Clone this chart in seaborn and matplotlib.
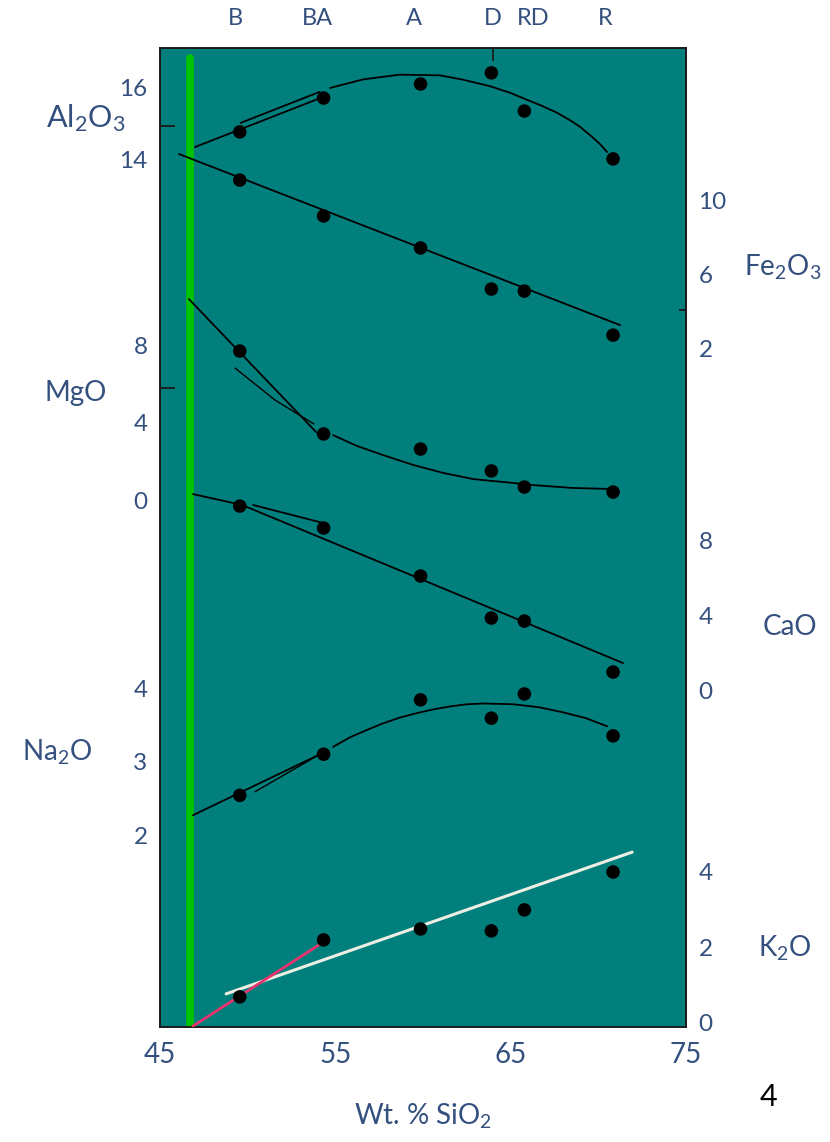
import matplotlib
matplotlib.use("Agg")
import matplotlib.pyplot as plt
import seaborn as sns

# rock types marked along the top (label positions in wt % SiO2)
rock_types = ['B', 'BA', 'A', 'D', 'RD', 'R']
type_sio2 = [49.3, 54.0, 59.5, 64.0, 66.3, 70.4]

# analysed samples
sio2 = [49.55, 54.33, 59.86, 63.9, 65.78, 70.84]
al2o3 = [14.78, 15.72, 16.11, 16.42, 15.36, 14.03]
fe2o3 = [11.08, 9.14, 7.41, 5.19, 5.08, 2.70]
mgo = [7.69, 3.41, 2.63, 1.50, 0.67, 0.41]
cao = [9.81, 8.64, 6.08, 3.84, 3.68, 0.96]
na2o = [2.54, 3.10, 3.84, 3.59, 3.92, 3.35]
k2o = [0.67, 2.19, 2.48, 2.43, 2.99, 4.00]

# hand drawn trends
al_line_x, al_line_y = [47.0, 54.3], [14.36, 15.75]
al_line2_x, al_line2_y = [49.6, 54.1], [15.03, 15.89]
al_curve_x = [54.70, 56.6, 58.69, 60.97, 62.28, 63.82, 65.0, 65.94, 66.8,
              67.65, 68.4, 68.96, 69.6, 70.1, 70.50]
al_curve_y = [16.00, 16.24, 16.37, 16.35, 16.23, 16.05, 15.86, 15.67, 15.50,
              15.31, 15.10, 14.92, 14.66, 14.44, 14.22]

fe_line_x, fe_line_y = [46.08, 71.24], [12.49, 3.24]

mg_line_x, mg_line_y = [46.65, 53.9], [10.37, 3.51]
mg_line2_x, mg_line2_y = [49.28, 51.56, 53.78], [6.81, 5.16, 3.92]
mg_curve_x = [54.87, 56.2, 57.72, 59.4, 61.14, 62.86, 65.14, 66.28, 68.56,
              70.67]
mg_curve_y = [3.35, 2.80, 2.32, 1.82, 1.40, 1.08, 0.88, 0.77, 0.62, 0.57]

ca_line_x, ca_line_y = [46.88, 49.68, 71.41], [10.45, 9.87, 1.44]
ca_line2_x, ca_line2_y = [50.31, 54.3], [9.87, 8.91]

na_line_x, na_line_y = [46.88, 54.13], [2.27, 3.10]
na_line2_x, na_line2_y = [50.42, 54.05], [2.59, 3.09]
na_curve_x = [54.87, 55.84, 56.8, 57.72, 58.7, 59.66, 60.6, 61.54, 62.5,
              63.43, 65.14, 66.6, 67.99, 69.3, 70.50]
na_curve_y = [3.20, 3.33, 3.43, 3.52, 3.60, 3.66, 3.71, 3.75, 3.78,
              3.79, 3.78, 3.74, 3.67, 3.59, 3.48]

k_white_x, k_white_y = [48.77, 71.93], [0.75, 4.53]
k_pink_x, k_pink_y = [46.88, 54.58], [-0.11, 2.21]

green_sio2 = 46.71

sns.set_style("white")
plt.rcParams['font.family'] = ['Lato', 'DejaVu Sans']

TEXT = '#34507F'
W, H = 830, 1142
fig = plt.figure(figsize=(W / 100, H / 100), dpi=100)
rect = [160 / W, 1 - 1027 / H, 526 / W, 979 / H]

ax = fig.add_axes(rect)
ax.set_facecolor('#007F7D')
ax.set_xlim(45, 75)
ax.set_ylim(0, 1)
ax.set_yticks([])
ax.set_xticks([45, 55, 65, 75])
ax.tick_params(axis='x', length=0, pad=11, labelsize=20, labelcolor=TEXT)
for s in ax.spines.values():
    s.set_color('#1a1a1a')
    s.set_linewidth(1.4)
ax.set_xlabel(r'Wt. % SiO$\mathregular{_2}$', fontsize=20, color=TEXT, labelpad=24)
ax.axvline(green_sio2, ymin=0, ymax=0.99, color='#00C400', lw=5.5, zorder=1)

# D marker tick on the upper frame
ax.set_xticks([64.0], minor=True)
ax.tick_params(axis='x', which='minor', bottom=False, top=True,
               direction='in', length=9, width=1.2, color='#1a1a1a')

top = ax.secondary_xaxis('top')
top.set_xticks(type_sio2)
top.set_xticklabels(rock_types)
top.tick_params(length=0, pad=14, labelsize=17, labelcolor=TEXT)
top.spines['top'].set_visible(False)


def oxide_axes(ylim, ticks, side, sep=None, sep_len=11):
    a = fig.add_axes(rect, facecolor='none')
    a.set_xlim(45, 75)
    a.set_ylim(*ylim)
    a.set_xticks([])
    for s in a.spines.values():
        s.set_visible(False)
    if side == 'right':
        a.yaxis.tick_right()
    a.set_yticks(ticks)
    a.set_yticklabels([str(t) for t in ticks])
    a.tick_params(axis='y', which='major', length=0, pad=9,
                  labelsize=17.5, labelcolor=TEXT)
    if sep is not None:
        a.set_yticks([sep], minor=True)
        a.tick_params(axis='y', which='minor', direction='in',
                      length=sep_len, width=1.3, color='#1a1a1a',
                      left=(side == 'left'), right=(side == 'right'))
    return a


def trend(a, x, y, color='black', lw=1.3):
    sns.lineplot(x=x, y=y, ax=a, color=color, lw=lw, sort=False,
                 estimator=None, zorder=2)


def samples(a, y):
    sns.scatterplot(x=sio2, y=y, ax=a, color='black', s=95,
                    edgecolor='none', zorder=3)


ax_al = oxide_axes((-10.08, 17.11), [14, 16], 'left', sep=14.94)
trend(ax_al, al_line_x, al_line_y)
trend(ax_al, al_line2_x, al_line2_y)
trend(ax_al, al_curve_x, al_curve_y)
samples(ax_al, al2o3)

ax_fe = oxide_axes((-34.70, 18.22), [2, 6, 10], 'right', sep=4.05, sep_len=5)
trend(ax_fe, fe_line_x, fe_line_y)
samples(ax_fe, fe2o3)

ax_mg = oxide_axes((-27.20, 23.33), [0, 4, 8], 'left', sep=5.78)
trend(ax_mg, mg_line_x, mg_line_y)
trend(ax_mg, mg_line2_x, mg_line2_y, lw=1.0)
trend(ax_mg, mg_curve_x, mg_curve_y)
samples(ax_mg, mgo)

ax_ca = oxide_axes((-17.97, 34.24), [0, 4, 8], 'right')
trend(ax_ca, ca_line_x, ca_line_y)
trend(ax_ca, ca_line2_x, ca_line2_y)
samples(ax_ca, cao)

ax_na = oxide_axes((-0.612, 12.71), [2, 3, 4], 'left')
trend(ax_na, na_line_x, na_line_y)
trend(ax_na, na_line2_x, na_line2_y, lw=1.0)
trend(ax_na, na_curve_x, na_curve_y)
samples(ax_na, na2o)

ax_k = oxide_axes((-0.133, 25.97), [0, 2, 4], 'right')
trend(ax_k, k_white_x, k_white_y, color='#EEEEE4', lw=2.2)
trend(ax_k, k_pink_x, k_pink_y, color='#E8336E', lw=2.0)
samples(ax_k, k2o)

# oxide names beside the scales
labels = [('Al$\\mathregular{_2}$O$\\mathregular{_3}$', 86, 118, 22),
          ('MgO', 76, 393, 20),
          ('Na$\\mathregular{_2}$O', 57, 752, 20),
          ('Fe$\\mathregular{_2}$O$\\mathregular{_3}$', 783, 267, 20),
          ('CaO', 790, 627, 20),
          ('K$\\mathregular{_2}$O', 785, 948, 20)]
for txt, px, py, fs in labels:
    fig.text(px / W, 1 - py / H, txt, fontsize=fs, color=TEXT,
             ha='center', va='center')

fig.text(768 / W, 1 - 1097 / H, '4', fontsize=22, color='black',
         ha='center', va='center')

fig.savefig('out.png', dpi=100)
